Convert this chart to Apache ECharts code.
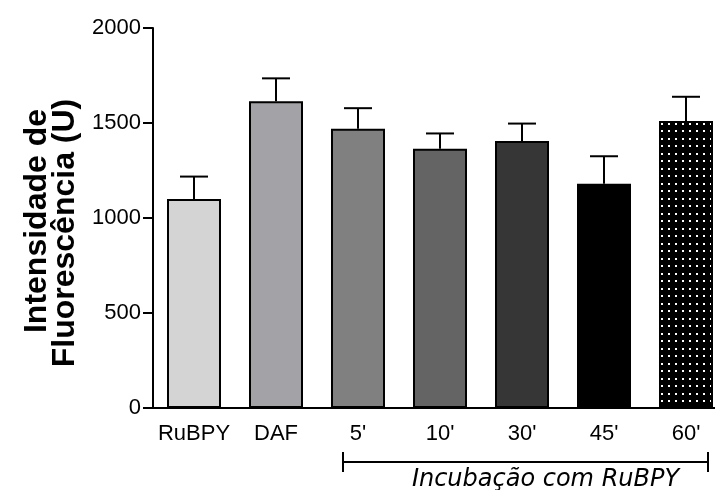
<!DOCTYPE html>
<html>
<head>
<meta charset="utf-8">
<script src="https://cdn.jsdelivr.net/npm/echarts@6/dist/echarts.min.js"></script>
<style>
  html, body { margin: 0; padding: 0; background: #fff; overflow: hidden; }
  /* the plot runs slightly past the right edge of the window */
  #chart { width: 730px; height: 490px; }
</style>
</head>
<body>
<div id="chart"></div>
<script>
// Fluorescence intensity per condition (mean and upper SD)
const categories = ["RuBPY", "DAF", "5'", "10'", "30'", "45'", "60'"];
const means = [1100, 1615, 1470, 1365, 1405, 1180, 1510];
const errors = [118, 120, 108, 80, 92, 145, 128];
const barColors = ['#d4d4d4', '#a3a2a7', '#808080', '#646464', '#363636', '#000000', 'dots'];
const yTicks = { min: 0, max: 2000, interval: 500 };
const yTitleLines = ['Intensidade de', 'Fluorescência (U)'];
const bracketLabel = 'Incubação com RuBPY';
const bracketRange = [2, 6];

const FONT = '"Liberation Sans", Arial, sans-serif';

// black fill with a regular grid of small white squares
function dotPattern() {
  const c = document.createElement('canvas');
  c.width = 7; c.height = 15;
  const ctx = c.getContext('2d');
  ctx.fillStyle = '#000';
  ctx.fillRect(0, 0, c.width, c.height);
  ctx.fillStyle = '#fff';
  ctx.fillRect(3, 3, 2, 2);
  ctx.fillRect(3, 10, 2, 2);
  return c;
}

const chart = echarts.init(document.getElementById('chart'), null, { renderer: 'canvas' });

const barData = means.map((v, i) => ({
  value: v,
  itemStyle: {
    color: barColors[i] === 'dots' ? { image: dotPattern(), repeat: 'repeat' } : barColors[i]
  }
}));

// rotated, two-line y-axis title
const titleSpots = [[37, 221], [65, 233]];
const titleGraphics = yTitleLines.map((line, i) => ({
  type: 'text',
  x: titleSpots[i][0], y: titleSpots[i][1],
  rotation: Math.PI / 2,
  style: {
    text: line, align: 'center', verticalAlign: 'middle',
    fontSize: 32, fontWeight: 'bold', fontFamily: FONT, fill: '#000'
  }
}));

const option = {
  animation: false,
  backgroundColor: '#fff',
  grid: { left: 153, top: 28, right: 3, bottom: 82, containLabel: false },
  graphic: titleGraphics,
  xAxis: {
    type: 'category',
    data: categories,
    axisLine: { lineStyle: { color: '#000', width: 2 } },
    axisTick: { alignWithLabel: true, length: 10, lineStyle: { color: '#000', width: 2 } },
    axisLabel: { color: '#000', fontSize: 22, fontFamily: FONT, margin: 15, interval: 0 }
  },
  yAxis: {
    type: 'value',
    min: yTicks.min, max: yTicks.max, interval: yTicks.interval,
    axisLine: { show: true, lineStyle: { color: '#000', width: 2 } },
    axisTick: { show: true, length: 10, lineStyle: { color: '#000', width: 2 } },
    axisLabel: { color: '#000', fontSize: 22, fontFamily: FONT, margin: 12, formatter: v => String(v) },
    splitLine: { show: false }
  },
  series: [
    {
      type: 'bar',
      data: barData,
      barWidth: 54,
      itemStyle: { borderColor: '#000', borderWidth: 2 },
      z: 2
    },
    {
      // upper error bars
      type: 'custom',
      data: means.map((v, i) => [i, v, v + errors[i]]),
      renderItem: function (params, api) {
        const x = api.value(0);
        const top = api.coord([x, api.value(2)]);
        const base = api.coord([x, api.value(1)]);
        const half = 14;
        const style = { stroke: '#000', lineWidth: 2 };
        return {
          type: 'group',
          children: [
            { type: 'line', shape: { x1: top[0], y1: base[1], x2: top[0], y2: top[1] }, style: style },
            { type: 'line', shape: { x1: top[0] - half, y1: top[1], x2: top[0] + half, y2: top[1] }, style: style }
          ]
        };
      },
      z: 1
    },
    {
      // bracket grouping the incubation times
      type: 'custom',
      data: [bracketRange],
      clip: false,
      renderItem: function (params, api) {
        const a = api.coord([api.value(0), 0]);
        const b = api.coord([api.value(1), 0]);
        const x1 = a[0] - 15, x2 = b[0] + 22;
        const y = a[1] + 54;
        const style = { stroke: '#000', lineWidth: 2 };
        return {
          type: 'group',
          children: [
            { type: 'line', shape: { x1: x1, y1: y, x2: x2, y2: y }, style: style },
            { type: 'line', shape: { x1: x1, y1: y - 10, x2: x1, y2: y + 10 }, style: style },
            { type: 'line', shape: { x1: x2, y1: y - 10, x2: x2, y2: y + 10 }, style: style },
            {
              type: 'text',
              style: {
                text: bracketLabel, x: (x1 + x2) / 2 + 20, y: y + 18,
                align: 'center', verticalAlign: 'middle',
                fontSize: 24, fontStyle: 'italic', fontFamily: '"DejaVu Sans", sans-serif', fill: '#000'
              }
            }
          ]
        };
      }
    }
  ]
};

chart.setOption(option);
</script>
</body>
</html>
